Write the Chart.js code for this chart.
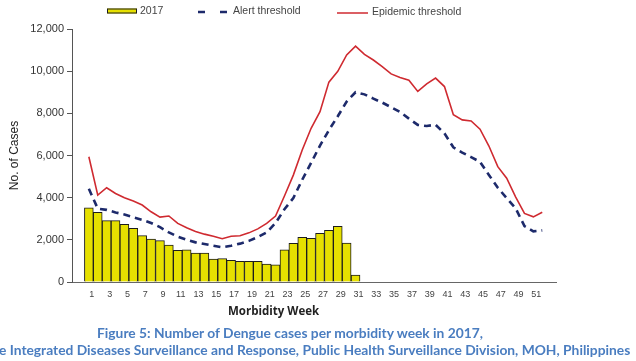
<!DOCTYPE html>
<html><head><meta charset="utf-8">
<script src="https://cdn.jsdelivr.net/npm/chart.js@4.4.0/dist/chart.umd.min.js"></script>
<style>
html,body{margin:0;padding:0;background:#fff;}
#wrap{position:relative;width:636px;height:361px;overflow:hidden;background:#fff;}
#c{position:absolute;left:0;top:0;}
.t{position:absolute;white-space:nowrap;line-height:1;}
#xt{left:228px;top:303px;font:bold 11.5px "Open Sans",sans-serif;color:#222;}
#cap1{left:290px;top:324px;transform:translateX(-50%);font:bold 13.8px Lato,sans-serif;color:#4a7dc0;}
#cap2{left:-1px;top:341px;font:bold 13.8px Lato,sans-serif;color:#4a7dc0;}
</style></head><body>
<div id="wrap">
<canvas id="c" width="636" height="361"></canvas>
<div class="t" id="xt">Morbidity Week</div>
<div class="t" id="cap1">Figure 5: Number of Dengue cases per morbidity week in 2017,</div>
<div class="t" id="cap2">e Integrated Diseases Surveillance and Response, Public Health Surveillance Division, MOH, Philippines</div>
</div>
<script>
const weeks = [1,2,3,4,5,6,7,8,9,10,11,12,13,14,15,16,17,18,19,20,21,22,23,24,25,26,
  27,28,29,30,31,32,33,34,35,36,37,38,39,40,41,42,43,44,45,46,47,48,49,50,51,52];
const cases2017 = [3520,3300,2910,2910,2730,2540,2200,2040,1960,1750,1500,1530,1370,1370,1090,1110,
  1030,980,980,980,850,820,1530,1830,2120,2070,2310,2450,2640,1850,330];
const alertThreshold = [4420,3480,3420,3300,3200,3070,2950,2800,2600,2350,2150,2000,1880,1800,1720,1650,
  1720,1820,1950,2130,2350,2800,3450,3980,4850,5650,6470,7200,7860,8560,9000,8900,
  8700,8510,8290,8070,7750,7450,7400,7460,7050,6390,6140,5920,5700,5080,4470,3980,3500,2650,2400,2450];
const epidemicThreshold = [5940,4120,4470,4200,4000,3840,3650,3330,3080,3130,2780,2570,2400,2270,2170,2050,
  2170,2190,2330,2520,2780,3130,4080,5070,6260,7290,8080,9480,9990,10770,11190,10800,
  10530,10220,9870,9700,9570,9040,9400,9670,9270,7930,7690,7640,7250,6450,5470,4920,4040,3250,3090,3310];
const weekTicks = [1,3,5,7,9,11,13,15,17,19,21,23,25,27,29,31,33,35,37,39,41,43,45,47,49,51];
const caseTicks = [0,2000,4000,6000,8000,10000,12000];
const seriesLabels = ['2017','Alert threshold','Epidemic threshold'];

const toXY = (vals) => vals.map((v, i) => ({x: weeks[i], y: v}));

const refLegend = {
  id: 'refLegend',
  afterDraw(chart, args, opts) {
    const ctx = chart.ctx;
    ctx.save();
    ctx.font = opts.font;
    ctx.textBaseline = 'middle';
    opts.items.forEach((it, i) => {
      const ds = chart.data.datasets[i];
      if (it.kind === 'box') {
        ctx.fillStyle = ds.backgroundColor;
        ctx.strokeStyle = ds.borderColor;
        ctx.lineWidth = 1;
        ctx.fillRect(it.x, it.y - it.h / 2, it.w, it.h);
        ctx.strokeRect(it.x + 0.5, it.y - it.h / 2 + 0.5, it.w - 1, it.h - 1);
      } else {
        ctx.strokeStyle = ds.borderColor;
        ctx.lineWidth = it.lw;
        ctx.setLineDash(it.dash || []);
        ctx.beginPath();
        ctx.moveTo(it.x, it.y);
        ctx.lineTo(it.x + it.w, it.y);
        ctx.stroke();
        ctx.setLineDash([]);
      }
      ctx.fillStyle = opts.color;
      ctx.fillText(ds.label, it.tx, it.ty);
    });
    ctx.restore();
  }
};

new Chart(document.getElementById('c'), {
  type: 'bar',
  data: {
    datasets: [
      {
        type: 'bar', label: seriesLabels[0], data: toXY(cases2017),
        backgroundColor: '#e6e000', borderColor: '#1c1c1c', borderWidth: 1,
        categoryPercentage: 1, barPercentage: 1, order: 3
      },
      {
        type: 'line', label: seriesLabels[1], data: toXY(alertThreshold),
        borderColor: '#1d2a6b', borderWidth: 2.6, borderDash: [7, 5],
        pointRadius: 0, tension: 0, fill: false, order: 2
      },
      {
        type: 'line', label: seriesLabels[2], data: toXY(epidemicThreshold),
        borderColor: '#cf2a30', borderWidth: 1.6,
        pointRadius: 0, tension: 0, fill: false, order: 1
      }
    ]
  },
  options: {
    responsive: false,
    animation: false,
    devicePixelRatio: 1,
    layout: { padding: { top: 29, right: 80, bottom: 45, left: 0 } },
    plugins: {
      legend: { display: false },
      tooltip: { enabled: false },
      refLegend: {
        font: '10.5px "Liberation Sans", Arial, sans-serif',
        color: '#444',
        items: [
          { kind: 'box', x: 107, y: 11, w: 30, h: 5, tx: 140, ty: 11 },
          { kind: 'line', x: 198, y: 12, w: 30, lw: 2.6, dash: [7, 15], tx: 233, ty: 11 },
          { kind: 'line', x: 337, y: 13, w: 31, lw: 1.5, tx: 372, ty: 12 }
        ]
      }
    },
    scales: {
      x: {
        type: 'linear', min: 0.15, max: 52.5,
        afterBuildTicks: (s) => { s.ticks = weekTicks.map(v => ({ value: v })); },
        afterFit: (s) => { s.height = 34; },
        grid: { display: false, drawTicks: false, tickLength: 0 },
        border: { display: true, color: '#666', width: 1 },
        ticks: {
          autoSkip: false, maxRotation: 0, padding: 7, labelOffset: 3,
          color: '#444', font: { family: '"Liberation Sans", Arial, sans-serif', size: 9 },
          callback: (v) => String(v)
        }
      },
      y: {
        min: 0, max: 12000,
        afterBuildTicks: (s) => { s.ticks = caseTicks.map(v => ({ value: v })); },
        afterFit: (s) => { s.width = 72; },
        grid: { drawOnChartArea: false, drawTicks: true, tickLength: 5, color: '#555' },
        border: { display: true, color: '#555', width: 1 },
        ticks: {
          padding: 3, color: '#333',
          font: { family: '"Liberation Sans", Arial, sans-serif', size: 11 },
          callback: (v) => v.toLocaleString('en-US')
        },
        title: {
          display: true, text: 'No. of Cases', color: '#222',
          font: { family: '"Liberation Sans", Arial, sans-serif', size: 12 },
          padding: { top: 7, bottom: 0 }
        }
      }
    }
  },
  plugins: [refLegend]
});
</script>
</body></html>
